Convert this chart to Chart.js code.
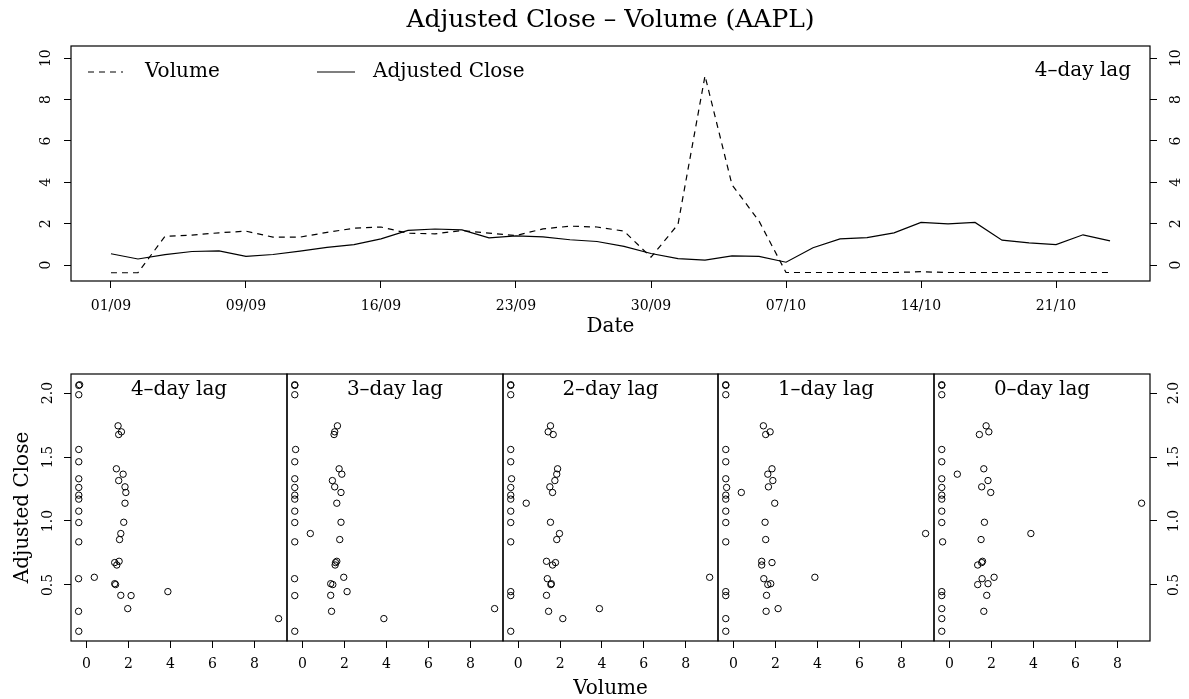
<!DOCTYPE html>
<html>
<head>
<meta charset="utf-8">
<title>Adjusted Close - Volume (AAPL)</title>
<script src="https://cdn.jsdelivr.net/npm/chart.js"></script>
<style>
  html, body { margin: 0; padding: 0; background: #fff; }
  #wrap { position: relative; width: 1189px; height: 699px; }
  canvas { position: absolute; left: 0; }
</style>
</head>
<body>
<div id="wrap">
  <canvas id="top" width="1189" height="340" style="top:0"></canvas>
  <canvas id="p0" width="1189" height="359" style="top:340px"></canvas>
  <canvas id="p1" width="1189" height="359" style="top:340px"></canvas>
  <canvas id="p2" width="1189" height="359" style="top:340px"></canvas>
  <canvas id="p3" width="1189" height="359" style="top:340px"></canvas>
  <canvas id="p4" width="1189" height="359" style="top:340px"></canvas>
</div>
<script>
// trading days shown on the top panel
const dates = ['01/09', '02/09', '03/09', '04/09', '08/09', '09/09', '10/09', '11/09',
  '14/09', '15/09', '16/09', '17/09', '18/09', '21/09', '22/09', '23/09', '24/09', '25/09',
  '28/09', '29/09', '30/09', '01/10', '02/10', '05/10', '06/10', '07/10', '08/10', '09/10',
  '12/10', '13/10', '14/10', '15/10', '16/10', '19/10', '20/10', '21/10', '22/10', '23/10'];

// scaled adjusted close, one per date
const adjClose = [0.549, 0.294, 0.503, 0.656, 0.685, 0.419, 0.510, 0.675, 0.855, 0.990,
  1.267, 1.676, 1.744, 1.697, 1.316, 1.408, 1.366, 1.223, 1.139, 0.902,
  0.560, 0.315, 0.237, 0.448, 0.417, 0.138, 0.837, 1.262, 1.330, 1.559,
  2.065, 1.987, 2.060, 1.202, 1.077, 0.988, 1.463, 1.171];

// scaled volume, starting 4 trading days before 01/09
const volume = [-0.37, -0.37, 1.39, 1.45,
  1.56, 1.64, 1.35, 1.35, 1.58, 1.78, 1.84, 1.54, 1.51, 1.67,
  1.54, 1.43, 1.75, 1.88, 1.84, 1.64, 0.38, 1.97, 9.15, 3.88,
  2.13, -0.36, -0.36, -0.36, -0.36, -0.36, -0.32, -0.36, -0.36, -0.36,
  -0.36, -0.36, -0.36, -0.36, -0.36, -0.36, -0.36, -0.36];

const lags = [4, 3, 2, 1, 0];
const topLag = 4;

const serif = "'DejaVu Serif', 'Liberation Serif', serif";
Chart.defaults.font.family = serif;
Chart.defaults.color = '#000';

const boxPlugin = {
  id: 'box',
  afterDraw(chart) {
    const a = chart.chartArea, ctx = chart.ctx;
    ctx.save();
    ctx.strokeStyle = '#000';
    ctx.lineWidth = 1.2;
    ctx.strokeRect(a.left, a.top, a.right - a.left, a.bottom - a.top);
    ctx.restore();
  }
};

// legend + lag note inside the top plot
const topNotes = {
  id: 'topNotes',
  afterDraw(chart) {
    const {ctx, chartArea: a} = chart;
    const ds = chart.data.datasets;
    const y = a.top + 26;
    ctx.save();
    ctx.strokeStyle = '#000';
    ctx.lineWidth = 1.2;
    ctx.setLineDash(ds[0].borderDash);
    ctx.beginPath(); ctx.moveTo(a.left + 17, y); ctx.lineTo(a.left + 52, y); ctx.stroke();
    ctx.setLineDash([]);
    ctx.beginPath(); ctx.moveTo(a.left + 246, y); ctx.lineTo(a.left + 284, y); ctx.stroke();
    ctx.font = '20px ' + serif;
    ctx.fillStyle = '#000';
    ctx.textBaseline = 'middle';
    ctx.fillText(ds[0].label, a.left + 74, y);
    ctx.fillText(ds[1].label, a.left + 302, y);
    ctx.textAlign = 'right';
    ctx.fillText(topLag + '\u2013day lag', a.right - 19, y - 1);
    ctx.restore();
  }
};

const panelTitle = {
  id: 'panelTitle',
  afterDraw(chart, args, opts) {
    const {ctx, chartArea: a} = chart;
    ctx.save();
    ctx.font = '20px ' + serif;
    ctx.fillStyle = '#000';
    ctx.textAlign = 'center';
    ctx.textBaseline = 'middle';
    ctx.fillText(opts.text, (a.left + a.right) / 2, a.top + 16);
    ctx.restore();
  }
};

const tickGrid = { drawOnChartArea: false, drawTicks: true, tickLength: 7, color: '#000', lineWidth: 1 };

const topVol = volume.slice(4 - topLag, 4 - topLag + dates.length);

new Chart(document.getElementById('top'), {
  type: 'line',
  data: {
    datasets: [
      {
        label: 'Volume',
        data: topVol.map((v, i) => ({x: i, y: v})),
        borderColor: '#000', borderWidth: 1.2, borderDash: [6, 5],
        pointRadius: 0, tension: 0, fill: false
      },
      {
        label: 'Adjusted Close',
        data: adjClose.map((v, i) => ({x: i, y: v})),
        borderColor: '#000', borderWidth: 1.2,
        pointRadius: 0, tension: 0, fill: false
      }
    ]
  },
  options: {
    responsive: false, animation: false, devicePixelRatio: 1, events: [],
    layout: { padding: 0 },
    plugins: {
      legend: { display: false },
      tooltip: { enabled: false },
      title: {
        display: true, text: 'Adjusted Close \u2013 Volume (AAPL)', fullSize: false,
        font: { size: 25, weight: 'normal', lineHeight: 1 }, padding: { top: 8, bottom: 13 }
      }
    },
    scales: {
      x: {
        type: 'linear', min: -1.48, max: 38.48,
        afterFit: s => { s.height = 59; },
        grid: tickGrid, border: { display: false },
        ticks: {
          stepSize: 5, includeBounds: false, autoSkip: false, maxRotation: 0, padding: 11,
          font: { size: 14, lineHeight: 1 }, callback: v => dates[v]
        },
        title: { display: true, text: 'Date', font: { size: 20, lineHeight: 1 }, padding: { top: 0, bottom: 3 } }
      },
      y: {
        position: 'left', min: -0.77, max: 10.59,
        afterFit: s => { s.width = 71; },
        grid: tickGrid, border: { display: false },
        ticks: { stepSize: 2, includeBounds: false, minRotation: 90, maxRotation: 90, crossAlign: 'center', padding: 9, font: { size: 14 } }
      },
      y2: {
        position: 'right', min: -0.77, max: 10.59,
        afterFit: s => { s.width = 39; },
        grid: tickGrid, border: { display: false },
        ticks: { stepSize: 2, includeBounds: false, minRotation: 90, maxRotation: 90, crossAlign: 'center', padding: 10, font: { size: 14 } }
      }
    }
  },
  plugins: [boxPlugin, topNotes]
});

// lag panels
const edges = [71, 287, 503, 718, 934, 1150];
lags.forEach((lag, k) => {
  const xs = volume.slice(4 - lag, 4 - lag + adjClose.length);
  const first = k === 0, last = k === lags.length - 1;
  new Chart(document.getElementById('p' + k), {
    type: 'scatter',
    data: {
      datasets: [{
        data: adjClose.map((v, i) => ({x: xs[i], y: v})),
        pointStyle: 'circle', pointRadius: 3.2, borderWidth: 1,
        borderColor: '#000', backgroundColor: 'rgba(0,0,0,0)'
      }]
    },
    options: {
      responsive: false, animation: false, devicePixelRatio: 1, events: [],
      layout: { padding: { top: 34, bottom: 0, left: first ? 0 : edges[k], right: last ? 0 : 1189 - edges[k + 1] } },
      plugins: {
        legend: { display: false },
        tooltip: { enabled: false },
        panelTitle: { text: lag + '\u2013day lag' }
      },
      scales: {
        x: {
          type: 'linear', min: -0.73, max: 9.55,
          afterFit: s => { s.height = 58; },
          grid: tickGrid, border: { display: false },
          ticks: { stepSize: 2, includeBounds: false, maxRotation: 0, padding: 9, font: { size: 14, lineHeight: 1 } },
          title: { display: k === 2, text: 'Volume', font: { size: 20, lineHeight: 1 }, padding: { top: 0, bottom: 0 } }
        },
        y: {
          display: first || last, position: first ? 'left' : 'right',
          min: 0.062, max: 2.149,
          afterFit: s => { if (first || last) s.width = first ? 71 : 39; },
          grid: tickGrid, border: { display: false },
          ticks: {
            stepSize: 0.5, includeBounds: false, minRotation: 90, maxRotation: 90, crossAlign: 'center',
            padding: first ? 5 : 6, font: { size: 14 }, callback: v => v.toFixed(1)
          },
          title: { display: first, text: 'Adjusted Close', font: { size: 20, lineHeight: 1 }, padding: { top: 13 } }
        }
      }
    },
    plugins: [boxPlugin, panelTitle]
  });
});
</script>
</body>
</html>
